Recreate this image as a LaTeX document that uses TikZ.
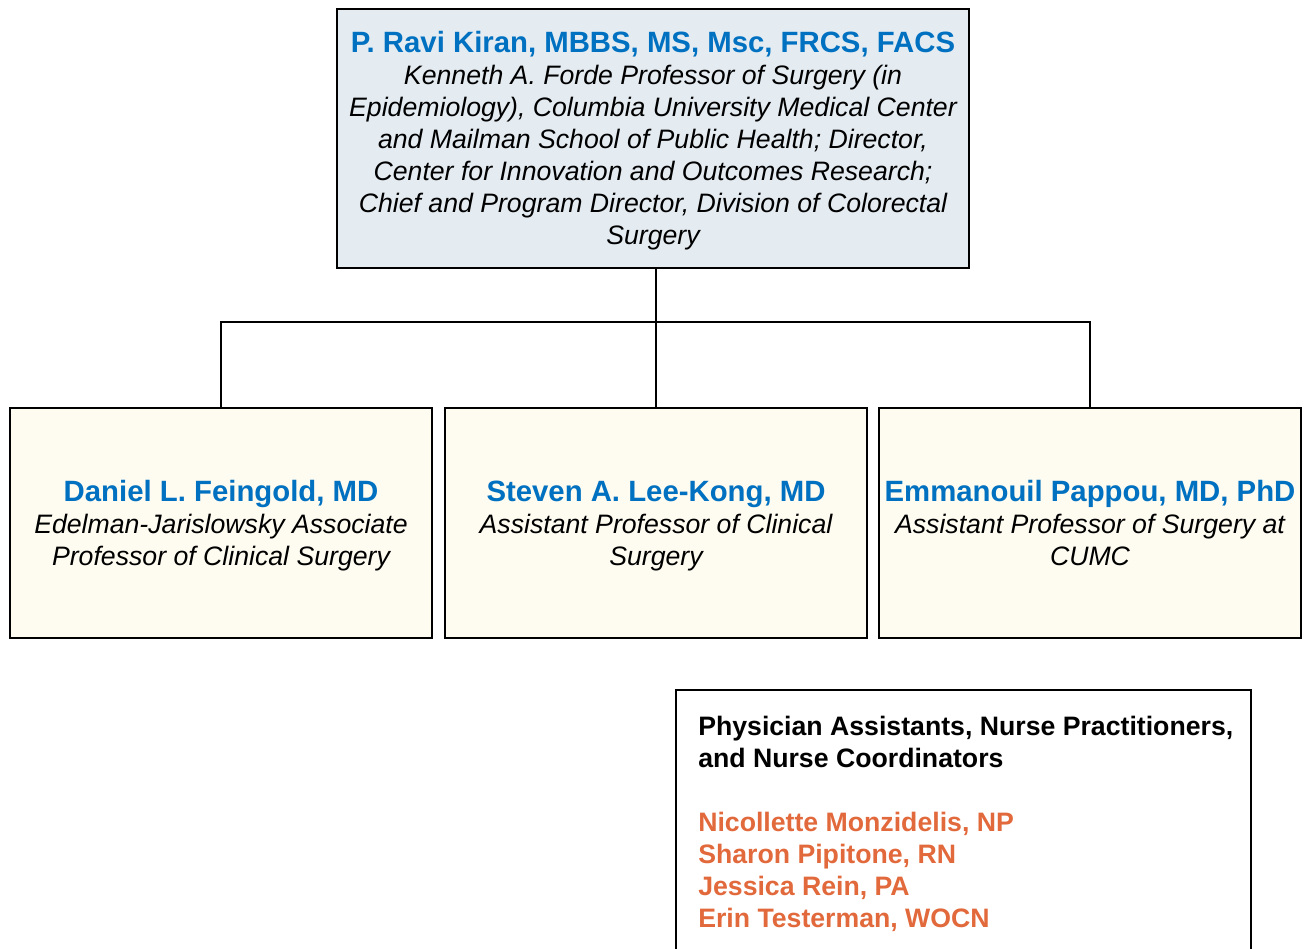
\documentclass[tikz,border=0pt]{standalone}
\usepackage{fontspec}
\setmainfont{Liberation Sans}
\definecolor{nameblue}{HTML}{0070C0}
\definecolor{topfill}{HTML}{E4ECF2}
\definecolor{cream}{HTML}{FEFBF0}
\definecolor{orng}{HTML}{E2693B}
\begin{document}
\begin{tikzpicture}[x=0.75pt,y=-0.75pt,
  box/.style={draw=black,line width=1pt,rectangle,inner sep=0pt},
  topbox/.style={box,fill=topfill,minimum width=474pt,minimum height=194.25pt},
  childbox/.style={box,fill=cream,minimum width=316.5pt,minimum height=172.5pt},
  listbox/.style={box,fill=white,minimum width=431.25pt,minimum height=198.75pt},
  txt/.style={align=center,inner sep=0pt,font=\fontsize{20}{24}\selectfont},
  conn/.style={draw=black,line width=1pt}]
\useasboundingbox (0,0) rectangle (1306,949);
\node[topbox] (top) at (653,138.5) {};
\node[txt] (toptxt) at (653,141) {{\color{nameblue}\fontsize{22}{24}\selectfont\bfseries P. Ravi Kiran, MBBS, MS, Msc, FRCS, FACS}\\\itshape Kenneth A. Forde Professor of Surgery (in\\\itshape Epidemiology), Columbia University Medical Center\\\itshape and Mailman School of Public Health; Director,\\\itshape Center for Innovation and Outcomes Research;\\\itshape Chief and Program Director, Division of Colorectal\\\itshape Surgery};
\node[childbox] (c1) at (221,523) {};
\node[childbox] (c2) at (656,523) {};
\node[childbox] (c3) at (1090,523) {};
\node[txt] (t1) at (221,526) {{\color{nameblue}\fontsize{22}{24}\selectfont\bfseries Daniel L. Feingold, MD}\\\itshape Edelman-Jarislowsky Associate\\\itshape Professor of Clinical Surgery};
\node[txt] (t2) at (656,526) {{\color{nameblue}\fontsize{22}{24}\selectfont\bfseries Steven A. Lee-Kong, MD}\\\itshape Assistant Professor of Clinical\\\itshape Surgery};
\node[txt] (t3) at (1090,523) {{\color{nameblue}\fontsize{22}{24}\selectfont\bfseries Emmanouil Pappou, MD, PhD}\\\itshape Assistant Professor of Surgery at\\\itshape CUMC};
\coordinate (j) at (656,322);
\draw[conn] (top.south -| j) -- (j);
\draw[conn] (c1.north) |- (j) -| (c3.north);
\draw[conn] (j) -- (c2.north);
\node[listbox] (lb) at (963.5,822.5) {};
\node[txt,align=left,anchor=north west,font=\fontsize{20}{24}\selectfont\bfseries] (lt) at (698,716) {Physician Assistants, Nurse Practitioners,\\and Nurse Coordinators\\[24pt]{\color{orng}Nicollette Monzidelis, NP}\\{\color{orng}Sharon Pipitone, RN}\\{\color{orng}Jessica Rein, PA}\\{\color{orng}Erin Testerman, WOCN}};
\end{tikzpicture}
\end{document}
